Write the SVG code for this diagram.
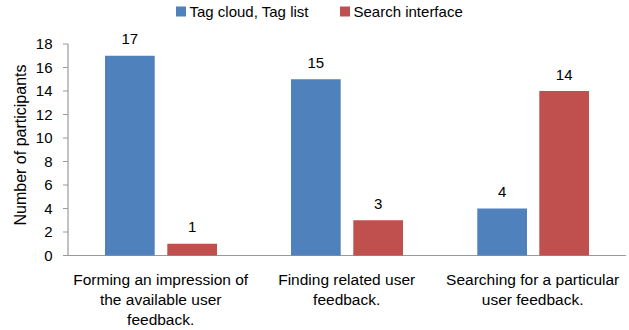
<svg xmlns="http://www.w3.org/2000/svg" width="629" height="330" viewBox="0 0 629 330">
  <style>
    text { font-family: "Liberation Sans", Arial, sans-serif; fill: #000; }
    .lbl { font-size: 15px; }
    .tick { font-size: 15px; text-anchor: end; }
    .val { font-size: 15px; text-anchor: middle; }
    .cat { font-size: 15.5px; text-anchor: middle; }
    .axis { stroke: #9a9a9a; stroke-width: 1.2; fill: none; }
    .s1 { fill: #4F81BD; }
    .s2 { fill: #C0504D; }
  </style>
  <rect width="629" height="330" fill="#ffffff"/>

  <!-- legend -->
  <g id="legend">
    <rect class="s1" x="176" y="6.5" width="10" height="10"/>
    <text class="lbl" x="189.5" y="17">Tag cloud, Tag list</text>
    <rect class="s2" x="340" y="6.5" width="10" height="10"/>
    <text class="lbl" x="353.5" y="17">Search interface</text>
  </g>

  <!-- value axis -->
  <g id="y-axis">
    <path class="axis" d="M68 44 V255.5 M63 44 H68 M63 67.5 H68 M63 91 H68 M63 114.5 H68 M63 138 H68 M63 161.5 H68 M63 185 H68 M63 208.5 H68 M63 232 H68 M63 255.5 H68"/>
    <text class="tick" x="52.5" y="49">18</text>
    <text class="tick" x="52.5" y="72.5">16</text>
    <text class="tick" x="52.5" y="96">14</text>
    <text class="tick" x="52.5" y="119.5">12</text>
    <text class="tick" x="52.5" y="143">10</text>
    <text class="tick" x="52.5" y="166.5">8</text>
    <text class="tick" x="52.5" y="190">6</text>
    <text class="tick" x="52.5" y="213.5">4</text>
    <text class="tick" x="52.5" y="237">2</text>
    <text class="tick" x="52.5" y="260.5">0</text>
    <text class="lbl" transform="translate(26 145) rotate(-90)" text-anchor="middle" style="font-size:16px">Number of participants</text>
  </g>

  <!-- category axis -->
  <g id="x-axis">
    <path class="axis" d="M63 255.5 H626"/>
  </g>

  <!-- category 1 -->
  <g id="cat-forming">
    <rect class="s1" x="105" y="55.75" width="49.7" height="199.75"/>
    <rect class="s2" x="167.3" y="243.75" width="49.7" height="11.75"/>
    <text class="val" x="129.85" y="44.25">17</text>
    <text class="val" x="192.15" y="232.25">1</text>
    <text class="cat" x="160.7" y="285">Forming an impression of</text>
    <text class="cat" x="160.7" y="305">the available user</text>
    <text class="cat" x="160.7" y="325">feedback.</text>
  </g>

  <!-- category 2 -->
  <g id="cat-finding">
    <rect class="s1" x="291" y="79.25" width="49.7" height="176.25"/>
    <rect class="s2" x="353.3" y="220.25" width="49.7" height="35.25"/>
    <text class="val" x="315.85" y="67.75">15</text>
    <text class="val" x="378.15" y="208.75">3</text>
    <text class="cat" x="346.7" y="285">Finding related user</text>
    <text class="cat" x="346.7" y="305">feedback.</text>
  </g>

  <!-- category 3 -->
  <g id="cat-searching">
    <rect class="s1" x="477.3" y="208.5" width="49.7" height="47"/>
    <rect class="s2" x="539.3" y="91" width="49.7" height="164.5"/>
    <text class="val" x="502.15" y="197">4</text>
    <text class="val" x="564.15" y="79.5">14</text>
    <text class="cat" x="532.7" y="285">Searching for a particular</text>
    <text class="cat" x="532.7" y="305">user feedback.</text>
  </g>
</svg>
